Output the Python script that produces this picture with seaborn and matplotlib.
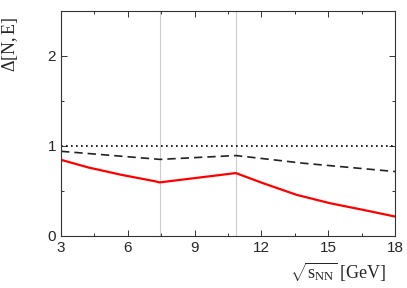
import numpy as np
import pandas as pd
import matplotlib
matplotlib.use("Agg")
import matplotlib.pyplot as plt
from matplotlib.ticker import MultipleLocator
import seaborn as sns

# ── Data ─────────────────────────────────────────────────────────────────────
sqrt_s_red = [3, 4.23, 5.72, 7.22, 7.42, 9.1, 10.85, 12.08, 13.58, 15.08, 16.57, 18]
delta_red = [0.845, 0.76, 0.678, 0.607, 0.594, 0.645, 0.698, 0.585, 0.456, 0.363, 0.289, 0.215]

sqrt_s_dash = [3, 7.45, 10.85, 13.9, 18]
delta_dash = [0.94, 0.85, 0.893, 0.807, 0.715]

sqrt_s_dot = [3, 18]
delta_dot = [1.0, 1.0]

vlines = [7.45, 10.85]

sns.set_theme(style="ticks")
plt.rcParams["font.family"] = ["Liberation Sans", "DejaVu Sans"]
plt.rcParams["mathtext.fontset"] = "custom"
plt.rcParams["mathtext.rm"] = "Liberation Serif"
plt.rcParams["mathtext.it"] = "Liberation Serif"

fig = plt.figure(figsize=(4.07, 2.88), dpi=100)
ax = fig.add_axes([0.150, 0.181, 0.8205, 0.781])

for xv in vlines:
    ax.axvline(xv, color="#cccccc", lw=0.8, zorder=0)

sns.lineplot(x=sqrt_s_dot, y=delta_dot, ax=ax, color="black", lw=1.2,
             linestyle=(0, (1, 2)))
sns.lineplot(x=sqrt_s_dash, y=delta_dash, ax=ax, color="#222222", lw=1.2,
             linestyle=(0, (5, 3)))
sns.lineplot(x=sqrt_s_red, y=delta_red, ax=ax, color="#ff0000", lw=1.6)

ax.set_xlim(3, 18)
ax.set_ylim(0, 2.5)
ax.xaxis.set_major_locator(MultipleLocator(3))
ax.xaxis.set_minor_locator(MultipleLocator(1.5))
ax.yaxis.set_major_locator(MultipleLocator(1))
ax.yaxis.set_minor_locator(MultipleLocator(0.5))
ax.tick_params(which="both", direction="in", top=True, right=True,
               labelsize=11, color="#333333")
ax.tick_params(which="major", length=4, width=0.7)
ax.tick_params(which="minor", length=2.5, width=0.7)
for sp in ax.spines.values():
    sp.set_linewidth(0.8)
    sp.set_color("#333333")

ax.set_ylabel(r"$\Delta[\mathrm{N,E}]$", fontsize=13, family="Liberation Serif")
ax.yaxis.set_label_coords(-0.123, 0.85)
ax.set_xlabel(r"$\sqrt{\mathrm{s}_{\mathrm{NN}}}\ \mathrm{[GeV]}$", fontsize=13,
              family="Liberation Serif")
ax.xaxis.set_label_coords(0.83, -0.11)

fig.savefig("out.png", dpi=100)
